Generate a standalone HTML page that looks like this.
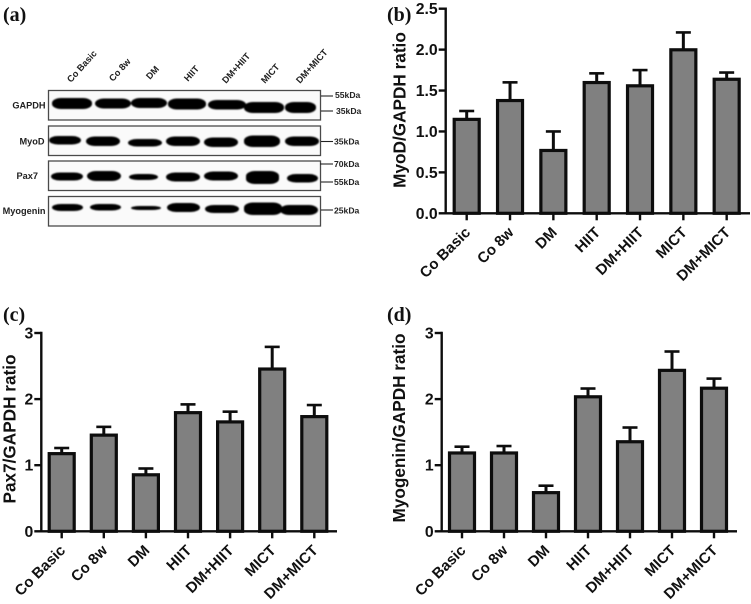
<!DOCTYPE html>
<html lang="en">
<head>
<meta charset="utf-8">
<title>Western blot and protein ratio charts</title>
<style>
html,body{margin:0;padding:0;background:#fff;}
body{width:751px;height:604px;overflow:hidden;}
svg{display:block;font-family:"Liberation Sans",Arial,sans-serif;}
.letter{font-family:"Liberation Serif",serif;font-weight:bold;font-size:20px;fill:#111;}
.tick{font-weight:bold;font-size:15.8px;fill:#111;}
.xlabel{font-weight:bold;font-size:15px;fill:#111;}
.title{font-weight:bold;font-size:17.2px;fill:#111;}
.blot-label{font-weight:bold;font-size:9.2px;fill:#222;}
.kda{font-weight:bold;font-size:8.6px;fill:#222;}
.lane{font-weight:bold;font-size:9.2px;fill:#222;}
.bands rect{rx:9px;ry:5px;}
</style>
</head>
<body>
<svg id="fig" width="751" height="604" viewBox="0 0 751 604" xmlns="http://www.w3.org/2000/svg">
  <defs>
    <filter id="bandBlur" x="-20%" y="-60%" width="140%" height="220%"><feGaussianBlur stdDeviation="0.8"/></filter>
  </defs>
  <text class="letter" x="3" y="21">(a)</text>
  <text class="letter" x="387" y="21">(b)</text>
  <text class="letter" x="3" y="321">(c)</text>
  <text class="letter" x="387" y="321">(d)</text>

  <g>
    <g>
      <text class="lane" transform="translate(71,83) rotate(-48)">Co Basic</text>
      <text class="lane" transform="translate(113,82) rotate(-48)">Co 8w</text>
      <text class="lane" transform="translate(150,80) rotate(-48)">DM</text>
      <text class="lane" transform="translate(188,82) rotate(-48)">HIIT</text>
      <text class="lane" transform="translate(226,84) rotate(-48)">DM+HIIT</text>
      <text class="lane" transform="translate(265,84) rotate(-48)">MICT</text>
      <text class="lane" transform="translate(300,84) rotate(-48)">DM+MICT</text>
    </g>
    <g fill="#fafafa" stroke="#4a4a4a" stroke-width="1.3">
      <rect x="48.5" y="90.5" width="272" height="29.5"/>
      <rect x="48.5" y="126" width="272" height="29.5"/>
      <rect x="48.5" y="161" width="272" height="29.5"/>
      <rect x="48.5" y="196.5" width="272" height="29.5"/>
    </g>
    <g class="bands" fill="#050505" filter="url(#bandBlur)">
      <g>
        <rect x="52" y="98" width="40" height="11"/><rect x="95" y="98.5" width="36" height="10"/><rect x="131" y="98" width="36" height="10"/>
        <rect x="168" y="98.5" width="38" height="11"/><rect x="208" y="100" width="38" height="9.5"/><rect x="244" y="102" width="40" height="11"/><rect x="285" y="102" width="31" height="11"/>
      </g>
      <g>
        <rect x="49" y="136" width="32" height="8.5"/><rect x="86" y="136.5" width="34" height="9.5"/><rect x="128" y="139" width="34" height="7.5"/>
        <rect x="166" y="136.5" width="34" height="9.5"/><rect x="204" y="137.5" width="34" height="9.5"/><rect x="244" y="135.5" width="36" height="11.5"/><rect x="285" y="136.5" width="34" height="9.5"/>
      </g>
      <g>
        <rect x="51" y="172.5" width="32" height="8"/><rect x="87" y="171" width="34" height="10"/><rect x="129" y="174" width="29" height="6"/>
        <rect x="166" y="172.5" width="34" height="9"/><rect x="204" y="171.5" width="34" height="9"/><rect x="246" y="171" width="33" height="13"/><rect x="287" y="174" width="31" height="8.5"/>
      </g>
      <g>
        <rect x="52" y="204" width="31" height="7"/><rect x="90" y="204" width="31" height="6.5"/><rect x="131" y="206" width="30" height="4"/>
        <rect x="167" y="203" width="33" height="9"/><rect x="205" y="205" width="34" height="8"/><rect x="244" y="202.5" width="38" height="12.5"/><rect x="280" y="205" width="38" height="10"/>
      </g>
    </g>
    <g text-anchor="end">
      <text class="blot-label" x="45.5" y="108.5">GAPDH</text>
      <text class="blot-label" x="44.5" y="144.5">MyoD</text>
      <text class="blot-label" x="38" y="179">Pax7</text>
      <text class="blot-label" x="45.5" y="214">Myogenin</text>
    </g>
    <g stroke="#222" stroke-width="1.1">
      <line x1="321" y1="96" x2="333" y2="96"/>
      <line x1="321" y1="111" x2="333" y2="111"/>
      <line x1="321" y1="141.5" x2="333" y2="141.5"/>
      <line x1="320" y1="164" x2="333" y2="164"/>
      <line x1="321" y1="182" x2="333" y2="182"/>
      <line x1="321" y1="210" x2="333" y2="210"/>
    </g>
    <g>
      <text class="kda" x="335" y="98">55kDa</text>
      <text class="kda" x="336" y="114">35kDa</text>
      <text class="kda" x="334" y="144.5">35kDa</text>
      <text class="kda" x="334" y="167">70kDa</text>
      <text class="kda" x="334" y="185">55kDa</text>
      <text class="kda" x="334" y="213.5">25kDa</text>
    </g>
  </g>
</svg>
<script>
// Chart data
var categories = ['Co Basic', 'Co 8w', 'DM', 'HIIT', 'DM+HIIT', 'MICT', 'DM+MICT'];
var myodValues = [1.16, 1.39, 0.78, 1.61, 1.57, 2.01, 1.65];
var myodErrors = [0.09, 0.21, 0.22, 0.10, 0.18, 0.20, 0.07];
var pax7Values = [1.19, 1.47, 0.87, 1.81, 1.67, 2.47, 1.75];
var pax7Errors = [0.07, 0.11, 0.08, 0.11, 0.14, 0.32, 0.16];
var myogeninValues = [1.20, 1.20, 0.60, 2.05, 1.37, 2.45, 2.18];
var myogeninErrors = [0.08, 0.09, 0.09, 0.11, 0.20, 0.27, 0.13];
var myodTicks = ['0.0', '0.5', '1.0', '1.5', '2.0', '2.5'];
var pax7Ticks = ['0', '1', '2', '3'];
var myogeninTicks = ['0', '1', '2', '3'];

var svg = document.getElementById('fig');
var NS = 'http://www.w3.org/2000/svg';

function make(tag, attrs, parent) {
  var el = document.createElementNS(NS, tag);
  for (var k in attrs) el.setAttribute(k, attrs[k]);
  parent.appendChild(el);
  return el;
}

function drawPanel(key, yTitle, values, errors, ticks, box) {
  var maxY = parseFloat(ticks[ticks.length - 1]);
  var minY = parseFloat(ticks[0]);
  function yScale(v) { return box.y0 - (v - minY) / (maxY - minY) * (box.y0 - box.yTop); }
  function xScale(i) { return box.x0 + box.step * i; }

  var g = make('g', {}, svg);
  
  

  var title = make('text', { 'class': 'title', 'text-anchor': 'middle', transform: 'translate(' + box.titleX + ',' + box.titleY + ') rotate(-90)' }, g);
  
  
  title.textContent = yTitle;

  values.forEach(function (v, i) {
    var cx = xScale(i);
    var top = yScale(v) + 1;
    var errTop = yScale(v + errors[i]);

    var stem = make('line', { x1: cx, x2: cx, y1: top, y2: errTop, stroke: '#0d0d0d', 'stroke-width': 3 }, g);
    
    

    var cap = make('line', { x1: cx - 7.5, x2: cx + 7.5, y1: errTop, y2: errTop, stroke: '#0d0d0d', 'stroke-width': 2.6 }, g);
    
    

    var bar = make('rect', { x: cx - 12.5, y: top, width: 25, height: box.y0 - top, fill: '#808080', stroke: '#0d0d0d', 'stroke-width': 3.2 }, g);
    
    

    var tick = make('line', { x1: cx, x2: cx, y1: box.y0, y2: box.y0 + 7, stroke: '#0d0d0d', 'stroke-width': 2.4 }, g);
    
    

    var lx = cx + box.labelDx;
    var ly = box.y0 + box.labelDy;
    var label = make('text', { 'class': 'xlabel', 'text-anchor': 'end', transform: 'translate(' + lx + ',' + ly + ') rotate(-45)' }, g);
    
    
    label.textContent = categories[i];
  });

  ticks.forEach(function (t, i) {
    var y = yScale(parseFloat(t));
    var tk = make('line', { x1: box.axisX - 7, x2: box.axisX, y1: y, y2: y, stroke: '#0d0d0d', 'stroke-width': 2.4 }, g);
    
    

    var tl = make('text', { 'class': 'tick', 'text-anchor': 'end', x: box.axisX - 8, y: y + 5.5 }, g);
    
    
    tl.textContent = t;
  });

  var yAxis = make('line', { x1: box.axisX, x2: box.axisX, y1: box.yTop - 1.2, y2: box.y0 + 1.2, stroke: '#0d0d0d', 'stroke-width': 2.4 }, g);
  
  

  var xAxis = make('line', { x1: box.axisX, x2: box.xEnd, y1: box.y0, y2: box.y0, stroke: '#0d0d0d', 'stroke-width': 2.4 }, g);
  
  
}

drawPanel('myod', 'MyoD/GAPDH ratio', myodValues, myodErrors, myodTicks,
  { axisX: 445.7, xEnd: 750, x0: 466.7, step: 43.33, y0: 213.3, yTop: 8.7, titleX: 405.5, titleY: 110, labelDx: 4.5, labelDy: 20 });
drawPanel('pax7', 'Pax7/GAPDH ratio', pax7Values, pax7Errors, pax7Ticks,
  { axisX: 41.3, xEnd: 337, x0: 61.7, step: 42.1, y0: 531.3, yTop: 333, titleX: 15.3, titleY: 429, labelDx: 4.5, labelDy: 20 });
drawPanel('myogenin', 'Myogenin/GAPDH ratio', myogeninValues, myogeninErrors, myogeninTicks,
  { axisX: 441.7, xEnd: 737, x0: 462, step: 42, y0: 531.3, yTop: 333, titleX: 405, titleY: 428, labelDx: 4.5, labelDy: 20 });
</script>
</body>
</html>
